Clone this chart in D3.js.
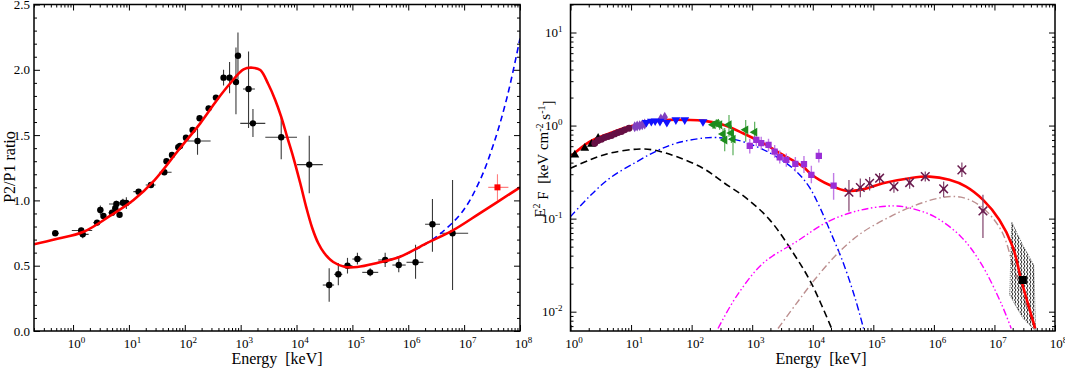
<!DOCTYPE html>
<html><head><meta charset="utf-8">
<script src="https://cdn.jsdelivr.net/npm/d3@7"></script>
<style>
body{margin:0;background:#fff;}
svg, svg text{font-family:"Liberation Serif","Times New Roman",serif !important;}
</style></head><body>
<svg id="chart" width="1065" height="369"></svg>
<script>
// ---------------- LEFT PANEL DATA (P2/P1 ratio) ----------------
const ratioE   = [0.48,1.40,1.49,2.69,3.08,3.5,4.99,5.7,5.96,6.8,7.8,9.0,14.9,24.8,43,47,59,76.5,82,105,138,169,184,267,361,494,633,824,895,1384,1660,5320,16900,38400,56000,81700,123000,208000,386000,676000,1.35e6,2.71e6,6.2e6];
const ratioV   = [0.748,0.77,0.74,0.83,0.926,0.88,0.906,0.94,0.973,0.89,0.982,0.98,1.067,1.118,1.215,1.30,1.348,1.407,1.417,1.48,1.539,1.455,1.629,1.705,1.787,1.94,1.94,1.907,2.108,1.853,1.59,1.483,1.274,0.352,0.434,0.50,0.551,0.449,0.544,0.505,0.526,0.817,0.748];
const ratioELo = [0.42,0.95,1.2,2.3,2.7,3.2,4.3,5.2,4.4,6.2,6.6,7.5,12,20,35,43,54,70,75,95,125,110,170,245,330,450,580,760,840,1100,984,2760,10200,29500,47000,66000,100000,150000,290000,520000,930000,2.0e6,3.7e6];
const ratioEHi = [0.56,2.2,1.9,3.1,3.5,3.8,5.6,6.2,7.0,7.4,9.0,11,18,30,58,52,65,83,90,115,152,290,200,290,395,540,690,890,960,1800,2760,10200,29500,47000,66000,100000,150000,290000,520000,900000,1.86e6,3.7e6,1.18e7];
const ratioVLo = [0.738,0.75,0.71,0.81,0.89,0.86,0.886,0.92,0.948,0.87,0.952,0.935,1.052,1.098,1.195,1.28,1.328,1.387,1.397,1.46,1.519,1.35,1.609,1.685,1.767,1.88,1.82,1.66,1.93,1.555,1.485,1.315,1.054,0.224,0.35,0.44,0.51,0.42,0.49,0.45,0.40,0.607,0.314];
const ratioVHi = [0.758,0.79,0.77,0.85,0.96,0.90,0.926,0.96,0.998,0.91,1.012,1.025,1.082,1.138,1.235,1.32,1.368,1.427,1.437,1.50,1.559,1.55,1.649,1.725,1.807,2.00,2.06,2.17,2.285,2.14,1.70,1.64,1.495,0.48,0.52,0.56,0.60,0.48,0.60,0.56,0.66,1.01,1.156];
// red square point
const extraE = [3.95e7], extraV = [1.10], extraELo = [2.7e7], extraEHi = [6.2e7], extraVLo = [1.0], extraVHi = [1.2];
// model curves (left)
const modelE = [0.2,0.482,1.55,4.65,12.1,28.8,77.4,189,377,652,1127,1633,2244,3115,4155,5325,6810,8730,11640,14900,19100,24400,31300,45400,74300,122000,277000,714000,2.1e6,6.4e6,1.9e7,1e8];
const modelV = [0.664,0.702,0.76,0.883,1.003,1.156,1.386,1.59,1.769,1.897,2.004,2.016,1.998,1.891,1.769,1.639,1.485,1.332,1.133,0.949,0.789,0.674,0.597,0.528,0.49,0.49,0.521,0.569,0.671,0.773,0.901,1.10];
const altE = [277000,714000,1.5e6,3.8e6,9.5e6,1.9e7,3.4e7,5.9e7,1e8];
const altV = [0.521,0.571,0.633,0.748,0.919,1.15,1.437,1.794,2.24];
const ratioTicks = [0,0.5,1.0,1.5,2.0,2.5];

// ---------------- RIGHT PANEL DATA (E^2 F) ----------------
const triE = [1.18,1.72,2.22,2.86], triV = [0.484,0.571,0.631,0.732];
const circE = [2.52,2.86,3.25,3.68,4.17,4.75,5.38,6.11,6.95,7.87,9.27];
const circV = [0.646,0.69,0.714,0.743,0.762,0.781,0.814,0.841,0.862,0.899,0.937];
const diaE = [11.5,12.6,13.9,15.3,16.8,31,36], diaV = [0.97,0.99,1.0,1.02,1.04,1.18,1.23];
const downE = [17.9,21.6,25,30,39,55,77,154], downV = [1.08,1.11,1.12,1.11,1.08,1.15,1.15,1.10];
const grnE  = [226,256,290,330,352,414,453,482,782,1100];
const grnV  = [1.02,1.06,1.02,0.81,0.70,1.02,0.83,0.714,0.90,0.85];
const grnLo = [0.92,0.96,0.90,0.70,0.53,0.76,0.65,0.48,0.67,0.65];
const grnHi = [1.12,1.17,1.14,0.93,0.94,1.30,1.00,0.90,1.15,1.10];
const sqE  = [912,1170,1410,1860,2350,2850,3660,5160,7160,9480,12600,22100];
const sqV  = [0.605,0.702,0.647,0.62,0.525,0.457,0.428,0.387,0.385,0.295,0.472,0.226];
const sqLo = [0.50,0.60,0.55,0.53,0.45,0.39,0.36,0.32,0.31,0.24,0.40,0.16];
const sqHi = [0.72,0.82,0.76,0.72,0.62,0.54,0.50,0.46,0.47,0.37,0.56,0.31];
const starE  = [39600,61000,86900,127000,219000,398000,721000,1.45e6,2.9e6,6.46e6];
const starV  = [0.192,0.216,0.24,0.272,0.221,0.244,0.283,0.209,0.334,0.121];
const starLo = [0.119,0.17,0.20,0.24,0.19,0.21,0.25,0.17,0.28,0.062];
const starHi = [0.26,0.27,0.28,0.31,0.25,0.28,0.32,0.25,0.40,0.18];
const boxE = [2.95e7], boxV = [0.0219];
const bowE = [1.93e7,2.93e7,4.45e7,4.8e7,2.93e7,1.79e7];
const bowV = [0.092,0.052,0.0318,0.0062,0.00855,0.0151];
// model components (right)
const totE = [1,2.08,4.45,9.5,20.4,43.5,82,154,330,705,1510,3220,6890,8900,12900,19000,35800,67400,144000,398000,851000,1.8e6,3.4e6,6.5e6,1.21e7,2.0e7,2.77e7,3.56e7,4.7e7];
const totV = [0.464,0.673,0.828,0.976,1.09,1.15,1.15,1.13,1.02,0.828,0.647,0.484,0.362,0.31,0.261,0.23,0.199,0.207,0.24,0.272,0.283,0.261,0.221,0.159,0.0968,0.05,0.0219,0.0123,0.0066];
const c1E = [1,2.08,4.45,12.3,23,56,154,350,800,1950,5000,9500,21000];
const c1V = [0.348,0.428,0.505,0.557,0.548,0.464,0.348,0.24,0.166,0.097,0.0407,0.0202,0.00635];
const c2E = [1,2,4.45,12.3,26,56,154,255,545,1170,2500,5400,8900,12900,19000,31600,50000,69000];
const c2V = [0.105,0.17,0.272,0.407,0.531,0.647,0.733,0.743,0.702,0.595,0.464,0.32,0.215,0.135,0.0756,0.034,0.014,0.0066];
const c3E = [273,545,1500,5400,17800,63000,224000,424000,1.02e6,2.8e6,6.0e6,1.29e7,1.89e7];
const c3V = [0.0066,0.0145,0.033,0.0566,0.0929,0.124,0.137,0.129,0.105,0.064,0.033,0.0123,0.0066];
const c4E = [2670,5400,10700,26000,63000,174000,480000,1.32e6,2.8e6,6.0e6,1.29e7,2.14e7,3.56e7,4.6e7];
const c4V = [0.0066,0.0123,0.022,0.0425,0.0697,0.102,0.138,0.168,0.170,0.135,0.075,0.028,0.0104,0.0066];
const energyTicks = [1e0,1e1,1e2,1e3,1e4,1e5,1e6,1e7,1e8];
const fluxTicks = [1e-2,1e-1,1e0,1e1];

// ---------------- DRAWING ----------------
const FONT = "Liberation Serif";
const svg = d3.select("#chart");
const defs = svg.append("defs");
const xL = d3.scaleLog().domain([0.2,1e8]).range([34,520]);
const yL = d3.scaleLinear().domain([0,2.5]).range([331,4.5]);
const xR = d3.scaleLog().domain([1,1e8]).range([570.5,1055]);
const yR = d3.scaleLog().domain([0.0062,20]).range([331,4.5]);

function clip(id, xs, ys){
  const [a,b]=xs.range(), [c,d]=ys.range();
  defs.append("clipPath").attr("id",id).append("rect").attr("x",a).attr("y",d).attr("width",b-a).attr("height",c-d);
}
clip("clipL",xL,yL); clip("clipR",xR,yR);
const pat = defs.append("pattern").attr("id","hatch").attr("patternUnits","userSpaceOnUse").attr("width",3).attr("height",4);
pat.append("path").attr("d","M0.5,0 L2,2 L0.5,4").attr("stroke","#000").attr("fill","none").attr("stroke-width",0.9);

function logMinors(dom){
  const out=[]; const lo=Math.floor(Math.log10(dom[0])), hi=Math.ceil(Math.log10(dom[1]));
  for(let e=lo;e<=hi;e++) for(let m=2;m<=9;m++){const v=m*Math.pow(10,e); if(v>=dom[0]&&v<=dom[1]) out.push(v);}
  return out;
}
function supFmt(sel, dx){
  sel.selectAll(".tick text").each(function(d){
    const e=Math.round(Math.log10(d)); const t=d3.select(this);
    t.text("10").attr("dx",dx);
    t.append("tspan").attr("dy","-0.55em").attr("font-size","9px").text(e);
  });
}
function axes(xs, ys, xMaj, xMin, yMaj, yMin, xLog, yLog){
  const [x0,x1]=xs.range(), [y0,y1]=ys.range();
  const g=svg.append("g");
  const mk=(gen,tr,vals,size,labels,pad)=>{
    const a=g.append("g").attr("transform",tr).call(gen.tickValues(vals).tickSizeInner(-size).tickSizeOuter(0).tickPadding(pad).tickFormat(labels?labels:()=>""));
    a.attr("font-family",FONT).attr("font-size",13);
    a.select(".domain").remove();
    a.selectAll(".tick line").attr("stroke","#000").attr("stroke-width",1);
    a.selectAll(".tick text").attr("font-size","13px").attr("font-family",FONT).attr("fill","#000");
    return a;
  };
  const bx=mk(d3.axisBottom(xs),`translate(0,${y0})`,xMaj,6,d=>d,8); supFmt(bx,"3");
  mk(d3.axisBottom(xs),`translate(0,${y0})`,xMin,3,null,8);
  mk(d3.axisTop(xs),`translate(0,${y1})`,xMaj,6,null,3);
  mk(d3.axisTop(xs),`translate(0,${y1})`,xMin,3,null,3);
  const ly=mk(d3.axisLeft(ys),`translate(${x0},0)`,yMaj,6,yLog?(d=>d):d3.format(".1f"),yLog?8:4);
  if(yLog) supFmt(ly,"0");
  mk(d3.axisLeft(ys),`translate(${x0},0)`,yMin,3,null,4);
  mk(d3.axisRight(ys),`translate(${x1},0)`,yMaj,6,null,4);
  mk(d3.axisRight(ys),`translate(${x1},0)`,yMin,3,null,4);
  g.append("rect").attr("x",x0).attr("y",y1).attr("width",x1-x0).attr("height",y0-y1)
    .attr("fill","none").attr("stroke","#000").attr("stroke-width",1.5);
}

// ---- left panel
const zip=(a,b)=>a.map((v,i)=>[v,b[i]]);
const gl = svg.append("g").attr("clip-path","url(#clipL)");
function errbars(g, xs, ys, E, V, eLo, eHi, vLo, vHi, color, w){
  E.forEach((e,i)=>{
    if(eLo) g.append("line").attr("x1",xs(eLo[i])).attr("x2",xs(eHi[i])).attr("y1",ys(V[i])).attr("y2",ys(V[i])).attr("stroke",color).attr("stroke-width",w);
    if(vLo) g.append("line").attr("x1",xs(e)).attr("x2",xs(e)).attr("y1",ys(vLo[i])).attr("y2",ys(vHi[i])).attr("stroke",color).attr("stroke-width",w);
  });
}
errbars(gl,xL,yL,ratioE,ratioV,ratioELo,ratioEHi,ratioVLo,ratioVHi,"#3a3a3a",1.1);
errbars(gl,xL,yL,extraE,extraV,extraELo,extraEHi,extraVLo,extraVHi,"#ff8080",1.1);
gl.selectAll("circle.pt").data(zip(ratioE,ratioV)).join("circle").attr("cx",d=>xL(d[0])).attr("cy",d=>yL(d[1])).attr("r",3.2).attr("fill","#000");
gl.selectAll("rect.ex").data(zip(extraE,extraV)).join("rect").attr("x",d=>xL(d[0])-3).attr("y",d=>yL(d[1])-3).attr("width",6).attr("height",6).attr("fill","#ff0000");
const lineL=d3.line().x(d=>xL(d[0])).y(d=>yL(d[1])).curve(d3.curveCatmullRom.alpha(0.5));
gl.append("path").attr("d",lineL(zip(altE,altV))).attr("fill","none").attr("stroke","#0000ff").attr("stroke-width",1.6).attr("stroke-dasharray","6,4");
gl.append("path").attr("d",lineL(zip(modelE,modelV))).attr("fill","none").attr("stroke","#ff0000").attr("stroke-width",2.6);
axes(xL,yL,energyTicks.filter(v=>v>=0.2),logMinors([0.2,1e8]),ratioTicks,d3.range(0,2.51,0.1).map(v=>+v.toFixed(1)).filter(v=>!ratioTicks.includes(v)),true,false);

// ---- right panel
const gr = svg.append("g").attr("clip-path","url(#clipR)");
const lineR=d3.line().x(d=>xR(d[0])).y(d=>yR(d[1])).curve(d3.curveCatmullRom.alpha(0.5));
const comp=(E,V,col,dash,w)=>gr.append("path").attr("d",lineR(zip(E,V))).attr("fill","none").attr("stroke",col).attr("stroke-width",w).attr("stroke-dasharray",dash);
comp(c1E,c1V,"#000","7,4",1.6);
comp(c2E,c2V,"#0000ff","7,3,1.5,3",1.4);
comp(c3E,c3V,"#ff00ff","7,2.5,1.5,2.5,1.5,2.5",1.4);
comp(c4E,c4V,"#bc8f8f","7,3,1.5,3",1.4);
// bowtie
const lineBow=d3.line().x(d=>xR(d[0])).y(d=>yR(d[1]));
gr.append("path").attr("d",lineBow(zip(bowE,bowV))+"Z").attr("fill","url(#hatch)").attr("stroke","#000").attr("stroke-width",0.5).attr("stroke-dasharray","1,1");
comp(totE,totV,"#ff0000",null,2.6);
errbars(gr,xR,yR,grnE,grnV,null,null,grnLo,grnHi,"#4aa84a",1.1);
errbars(gr,xR,yR,sqE,sqV,null,null,sqLo,sqHi,"#c07ae6",1.4);
errbars(gr,xR,yR,starE,starV,null,null,starLo,starHi,"#80406a",1.2);
const sym=(E,V,type,size,col,rot)=>gr.append("g").selectAll("path").data(zip(E,V)).join("path")
  .attr("d",d3.symbol().type(type).size(size)).attr("fill",col)
  .attr("transform",d=>`translate(${xR(d[0])},${yR(d[1])}) rotate(${rot||0})`);
sym(triE,triV,d3.symbolTriangle,34,"#000",0);
sym(circE,circV,d3.symbolCircle,38,"#650f44",0);
sym(diaE,diaV,d3.symbolDiamond,34,"#8040c0",0);
sym(downE,downV,d3.symbolTriangle,34,"#1010ff",180);
sym(grnE,grnV,d3.symbolTriangle,34,"#1e8c1e",-90);
sym(sqE,sqV,d3.symbolSquare,40,"#9a2ed6",0);
gr.append("g").selectAll("path").data(zip(starE,starV)).join("path")
  .attr("d",d3.symbol().type(d3.symbolTimes).size(50)).attr("fill","none").attr("stroke","#6b1d4f").attr("stroke-width",1.5)
  .attr("transform",d=>`translate(${xR(d[0])},${yR(d[1])})`);
gr.append("g").selectAll("path").data(zip(starE,starV)).join("path")
  .attr("d",d3.symbol().type(d3.symbolSquare).size(10)).attr("fill","#6b1d4f")
  .attr("transform",d=>`translate(${xR(d[0])},${yR(d[1])})`);
sym(boxE,boxV,d3.symbolSquare,64,"#000",0);
axes(xR,yR,energyTicks,logMinors([1,1e8]),fluxTicks,logMinors([0.0062,20]),true,true);

// ---- axis titles
const title=(x,y,tr)=>svg.append("text").attr("x",x).attr("y",y).attr("transform",tr).attr("text-anchor","middle").attr("font-size","16px").attr("font-family",FONT);
title(277,364,null).text("Energy\u00a0\u00a0[keV]");
title(821,364,null).text("Energy\u00a0\u00a0[keV]");
title(0,0,"translate(15,167) rotate(-90)").text("P2/P1 ratio");
const yt=title(0,0,"translate(545,159) rotate(-90)").attr("font-size","15px");
yt.append("tspan").text("E");
yt.append("tspan").attr("dy","-0.5em").attr("font-size","10px").text("2");
yt.append("tspan").attr("dy","0.5em").text("\u00a0F\u00a0\u00a0[keV\u00a0cm");
yt.append("tspan").attr("dy","-0.5em").attr("font-size","10px").text("-2");
yt.append("tspan").attr("dy","0.5em").text("\u00a0s");
yt.append("tspan").attr("dy","-0.5em").attr("font-size","10px").text("-1");
yt.append("tspan").attr("dy","0.5em").text("]");
</script>
</body></html>
